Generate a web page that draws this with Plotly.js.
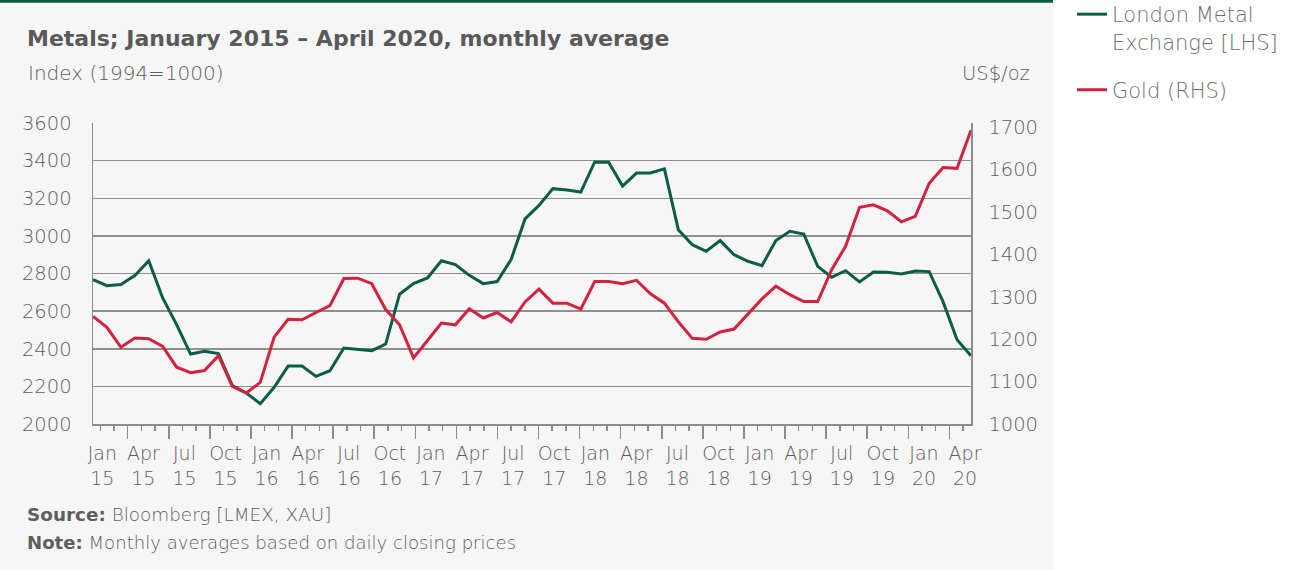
<!DOCTYPE html>
<html>
<head>
<meta charset="utf-8">
<script src="https://cdn.plot.ly/plotly-3.0.1.min.js"></script>
<style>
  html, body { margin: 0; padding: 0; background: #ffffff; }
  #chart { width: 1292px; height: 570px; }
</style>
</head>
<body>
<div id="chart"></div>
<script>
// ---- Data (monthly averages, Jan 2015 – Apr 2020) ----
const months = [
  'Jan 15','Feb 15','Mar 15','Apr 15','May 15','Jun 15','Jul 15','Aug 15','Sep 15','Oct 15','Nov 15','Dec 15',
  'Jan 16','Feb 16','Mar 16','Apr 16','May 16','Jun 16','Jul 16','Aug 16','Sep 16','Oct 16','Nov 16','Dec 16',
  'Jan 17','Feb 17','Mar 17','Apr 17','May 17','Jun 17','Jul 17','Aug 17','Sep 17','Oct 17','Nov 17','Dec 17',
  'Jan 18','Feb 18','Mar 18','Apr 18','May 18','Jun 18','Jul 18','Aug 18','Sep 18','Oct 18','Nov 18','Dec 18',
  'Jan 19','Feb 19','Mar 19','Apr 19','May 19','Jun 19','Jul 19','Aug 19','Sep 19','Oct 19','Nov 19','Dec 19',
  'Jan 20','Feb 20','Mar 20','Apr 20'
];

// London Metal Exchange index (LHS, 1994=1000)
const lmeIndex = [
  2767, 2735, 2741, 2789, 2868, 2670, 2528, 2372, 2386, 2374, 2204, 2165,
  2108, 2195, 2308, 2308, 2253, 2283, 2404, 2395, 2390, 2425, 2690, 2746,
  2776, 2868, 2847, 2790, 2746, 2757, 2874, 3090, 3162, 3251, 3244, 3233,
  3393, 3391, 3265, 3334, 3334, 3356, 3033, 2953, 2918, 2975, 2900, 2865,
  2842, 2975, 3024, 3010, 2838, 2780, 2815, 2755, 2808, 2806, 2797, 2813,
  2810, 2649, 2448, 2363
];

// Gold price (RHS, US$/oz)
const goldPrice = [
  1254, 1228, 1181, 1203, 1201, 1183, 1134, 1121, 1126, 1161, 1089, 1073,
  1098, 1205, 1247, 1246, 1263, 1279, 1343, 1344, 1331, 1270, 1234, 1156,
  1197, 1238, 1234, 1272, 1250, 1263, 1241, 1288, 1318, 1285, 1285, 1271,
  1336, 1336, 1331, 1339, 1307, 1285, 1241, 1202, 1200, 1217, 1224, 1259,
  1295, 1325, 1305, 1289, 1289, 1364, 1419, 1511, 1517, 1503, 1477, 1490,
  1568, 1605, 1603, 1693
];

// Axis tick labels
const xTickLabels = [
  'Jan<br>15','Apr<br>15','Jul<br>15','Oct<br>15',
  'Jan<br>16','Apr<br>16','Jul<br>16','Oct<br>16',
  'Jan<br>17','Apr<br>17','Jul<br>17','Oct<br>17',
  'Jan<br>18','Apr<br>18','Jul<br>18','Oct<br>18',
  'Jan<br>19','Apr<br>19','Jul<br>19','Oct<br>19',
  'Jan<br>20','Apr<br>20'
];
const leftTicks = [2000, 2200, 2400, 2600, 2800, 3000, 3200, 3400, 3600];
const rightTicks = [1000, 1100, 1200, 1300, 1400, 1500, 1600, 1700];

const seriesNames = ['London Metal<br>Exchange [LHS]', 'Gold (RHS)'];

// ---- Derived positions ----
const idx = months.map((_, i) => i);
const quarterIdx = idx.filter(i => i % 3 === 0);
const quarterEndIdx = idx.filter(i => i % 3 === 2);

const FONT = '"DejaVu Sans", Arial, sans-serif';
const GREEN = '#0b5c4a';
const RED = '#d4213f';
const GRID = '#8f8f8f';
const TXT = '#5e5e5e';
const LIGHT = 300;

// plot area in px: left 93, right 971, top 123, bottom 424
const L = 93, R = 971, T = 123, B = 424;
const px = X => (X - L) / (R - L);
const py = Y => (B - Y) / (B - T);

const traces = [
  {
    x: idx, y: lmeIndex, name: seriesNames[0], type: 'scatter', mode: 'lines',
    line: { color: GREEN, width: 3 }, xaxis: 'x', yaxis: 'y', legendgroup: 'lme',
    text: months, hovertemplate: '%{text}: %{y}<extra></extra>'
  },
  {
    x: idx, y: goldPrice, name: seriesNames[1], type: 'scatter', mode: 'lines',
    line: { color: RED, width: 3 }, xaxis: 'x', yaxis: 'y2', legendgroup: 'gold',
    text: months, hovertemplate: '%{text}: %{y}<extra></extra>'
  },
  // empty helper traces so the tick/label axes are drawn
  { x: [], y: [], type: 'scatter', mode: 'lines', xaxis: 'x2', yaxis: 'y',
    showlegend: false, hoverinfo: 'skip' },
  { x: [], y: [], type: 'scatter', mode: 'lines', xaxis: 'x3', yaxis: 'y',
    showlegend: false, hoverinfo: 'skip' }
];

const tickRange = [-0.533, idx.length - 1 + 0.58];

const layout = {
  width: 1292, height: 570,
  margin: { l: L, r: 1292 - R, t: T, b: 570 - B, pad: 0, autoexpand: false },
  paper_bgcolor: '#ffffff',
  plot_bgcolor: 'rgba(0,0,0,0)',
  font: { family: FONT, color: TXT, size: 19, weight: LIGHT },
  title: {
    text: 'Metals; January 2015 – April 2020, monthly average',
    font: { family: FONT, size: 22, color: '#595959', weight: 'bold' },
    x: 27 / 1292, xanchor: 'left', xref: 'container',
    y: 1 - 38 / 570, yanchor: 'middle', yref: 'container'
  },
  showlegend: true,
  legend: {
    xref: 'paper', yref: 'paper',
    x: px(1072), xanchor: 'left', y: py(-6), yanchor: 'top',
    font: { family: FONT, size: 21, color: '#6e6e6e', weight: LIGHT },
    bgcolor: 'rgba(0,0,0,0)', valign: 'top', tracegroupgap: 18
  },
  xaxis: {
    range: [0, idx.length - 1], domain: [0, 1],
    showticklabels: false, ticks: '', showgrid: false, zeroline: false,
    showline: true, linecolor: '#8c8c8c', linewidth: 1.5, fixedrange: true
  },
  xaxis2: {
    overlaying: 'x', anchor: 'y', side: 'bottom', range: tickRange,
    tickmode: 'array', tickvals: quarterEndIdx, ticks: 'outside', ticklen: 14,
    tickcolor: '#8c8c8c', tickwidth: 1.5, showticklabels: false,
    showgrid: false, zeroline: false, showline: false,
    minor: { tickmode: 'array', tickvals: idx, ticks: 'outside', ticklen: 6,
             tickcolor: '#8c8c8c', tickwidth: 1.5, showgrid: false }
  },
  xaxis3: {
    overlaying: 'x', anchor: 'y', side: 'bottom', range: tickRange,
    tickmode: 'array', tickvals: quarterIdx, ticktext: xTickLabels,
    ticks: '', showgrid: false, zeroline: false, showline: false,
    tickfont: { family: FONT, size: 19, color: TXT, weight: LIGHT },
    tickangle: 0, ticklabelstandoff: 16, ticklabelshift: 2
  },
  yaxis: {
    range: [2000, 3600], tickmode: 'array', tickvals: leftTicks,
    showgrid: true, gridcolor: GRID, gridwidth: 1.5, zeroline: false,
    showline: true, linecolor: '#8c8c8c', linewidth: 1.5, ticks: '',
    tickfont: { family: FONT, size: 19.5, color: TXT, weight: LIGHT },
    ticklabelstandoff: 16, fixedrange: true
  },
  yaxis2: {
    overlaying: 'y', side: 'right', range: [1000, 1710],
    tickmode: 'array', tickvals: rightTicks,
    showgrid: false, zeroline: false,
    showline: true, linecolor: '#8c8c8c', linewidth: 1.5, ticks: '',
    tickfont: { family: FONT, size: 19.5, color: TXT, weight: LIGHT },
    ticklabelstandoff: 12, fixedrange: true
  },
  shapes: [
    { type: 'rect', xref: 'paper', yref: 'paper', layer: 'below',
      x0: px(0), x1: px(1053), y0: py(570), y1: py(0),
      fillcolor: '#f6f6f6', line: { width: 0 } },
    { type: 'rect', xref: 'paper', yref: 'paper', layer: 'below',
      x0: px(0), x1: px(1053), y0: py(2.8), y1: py(0),
      fillcolor: GREEN, line: { width: 0 } }
  ],
  annotations: [
    { text: 'Index (1994=1000)', xref: 'paper', yref: 'paper',
      x: px(26), y: py(73), xanchor: 'left', yanchor: 'middle', showarrow: false,
      font: { family: FONT, size: 20, color: TXT, weight: LIGHT } },
    { text: 'US$/oz', xref: 'paper', yref: 'paper',
      x: px(1032), y: py(73), xanchor: 'right', yanchor: 'middle', showarrow: false,
      font: { family: FONT, size: 19.5, color: TXT, weight: LIGHT } },
    { text: '<b>Source:</b> Bloomberg [LMEX, XAU]', xref: 'paper', yref: 'paper',
      x: px(25), y: py(514), xanchor: 'left', yanchor: 'middle', showarrow: false,
      font: { family: FONT, size: 18.4, color: TXT, weight: LIGHT } },
    { text: '<b>Note:</b> Monthly averages based on daily closing prices', xref: 'paper', yref: 'paper',
      x: px(25), y: py(542), xanchor: 'left', yanchor: 'middle', showarrow: false,
      font: { family: FONT, size: 18.1, color: TXT, weight: LIGHT } }
  ]
};

Plotly.newPlot('chart', traces, layout, { displayModeBar: false, staticPlot: true });
</script>
</body>
</html>
